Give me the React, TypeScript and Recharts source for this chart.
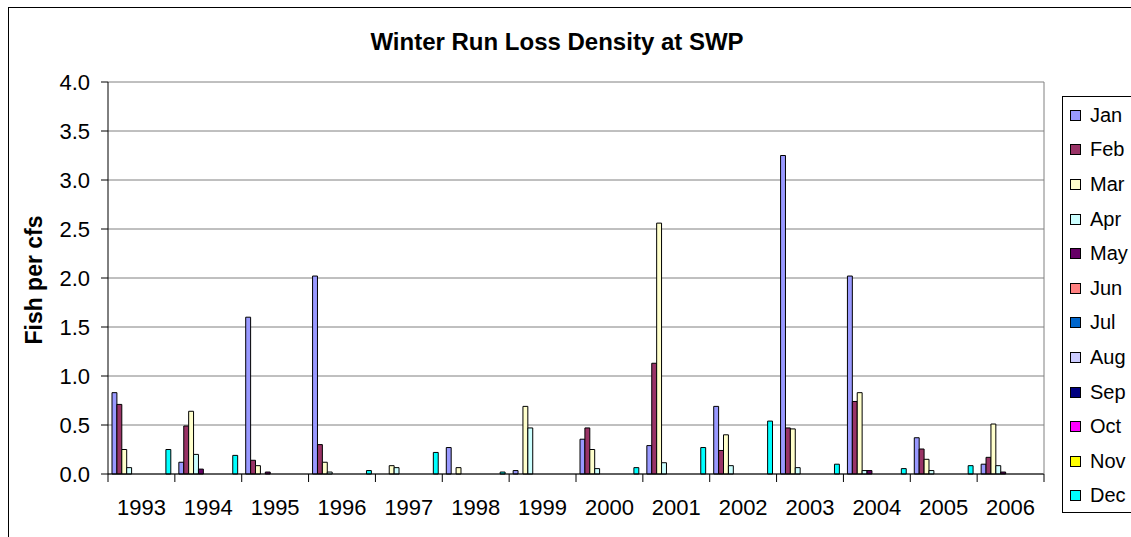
import { BarChart, Bar, XAxis, YAxis, CartesianGrid, Legend } from "recharts";

const YEARS = ['1993', '1994', '1995', '1996', '1997', '1998', '1999', '2000', '2001', '2002', '2003', '2004', '2005', '2006'];
const MONTHS = ['Jan', 'Feb', 'Mar', 'Apr', 'May', 'Jun', 'Jul', 'Aug', 'Sep', 'Oct', 'Nov', 'Dec'];
const COLORS = ['#9999FF', '#993366', '#FFFFCC', '#CCFFFF', '#660066', '#FF8080', '#0066CC', '#CCCCFF', '#000080', '#FF00FF', '#FFFF00', '#00FFFF'];

// fish per cfs, one value per year
const JAN = [0.83, 0.12, 1.6, 2.02, 0, 0.27, 0.035, 0.355, 0.29, 0.69, 3.25, 2.02, 0.37, 0.1];
const FEB = [0.71, 0.49, 0.14, 0.3, 0, 0, 0, 0.47, 1.13, 0.24, 0.47, 0.74, 0.255, 0.17];
const MAR = [0.25, 0.64, 0.085, 0.12, 0.085, 0.065, 0.69, 0.25, 2.56, 0.4, 0.46, 0.83, 0.15, 0.51];
const APR = [0.065, 0.2, 0, 0.02, 0.065, 0, 0.47, 0.055, 0.115, 0.085, 0.065, 0.035, 0.035, 0.085];
const MAY = [0, 0.05, 0.02, 0, 0, 0, 0, 0, 0, 0, 0, 0.035, 0, 0.02];
const JUN = [0, 0, 0, 0, 0, 0, 0, 0, 0, 0, 0, 0, 0, 0];
const JUL = [0, 0, 0, 0, 0, 0, 0, 0, 0, 0, 0, 0, 0, 0];
const AUG = [0, 0, 0, 0, 0, 0, 0, 0, 0, 0, 0, 0, 0, 0];
const SEP = [0, 0, 0, 0, 0, 0, 0, 0, 0, 0, 0, 0, 0, 0];
const OCT = [0, 0, 0, 0, 0, 0, 0, 0, 0, 0, 0, 0, 0, 0];
const NOV = [0, 0, 0, 0, 0, 0, 0, 0, 0, 0, 0, 0, 0, 0];
const DEC = [0.25, 0.19, 0, 0.035, 0.22, 0.02, 0, 0.065, 0.27, 0.54, 0.1, 0.055, 0.085, 0];

const SERIES = [JAN, FEB, MAR, APR, MAY, JUN, JUL, AUG, SEP, OCT, NOV, DEC];
const Y_TICKS = [0, 0.5, 1, 1.5, 2, 2.5, 3, 3.5, 4];

const data = YEARS.map((year, i) => {
  const row: Record<string, string | number> = { year };
  MONTHS.forEach((m, j) => {
    row[m] = SERIES[j][i];
  });
  return row;
});

const FONT = '"Liberation Sans", Arial, sans-serif';
const TICK_LEN = 8;
const LABEL_GAP = 25;

// year label plus Excel-style tick marks on the group boundaries
function YearTick(props: any) {
  const { x, y, payload, index } = props;
  const half = payload.offset || 0;
  const axisY = y - LABEL_GAP;
  const last = index === YEARS.length - 1;
  return (
    <g>
      <line x1={x - half} x2={x - half} y1={axisY} y2={axisY + TICK_LEN} stroke="#000" />
      {last && <line x1={x + half} x2={x + half} y1={axisY} y2={axisY + TICK_LEN} stroke="#000" />}
      <text x={x} y={y} dy="0.71em" textAnchor="middle" fontSize={22} fontFamily={FONT} fill="#000">
        {payload.value}
      </text>
    </g>
  );
}

function LegendBox() {
  return (
    <div style={{ border: '1px solid #000', background: '#fff', width: 80, height: 414, paddingTop: 1, fontFamily: FONT }}>
      {MONTHS.map((m, i) => (
        <div key={m} style={{ height: 34.6, display: 'flex', alignItems: 'center' }}>
          <span style={{ width: 9, height: 9, border: '1px solid #000', background: COLORS[i], marginLeft: 7, marginRight: 9, display: 'inline-block' }} />
          <span style={{ fontSize: 20, color: '#000' }}>{m}</span>
        </div>
      ))}
    </div>
  );
}

export default function App() {
  return (
    <div style={{ position: 'absolute', left: 0, top: 0, width: 1131, height: 537, overflow: 'hidden', background: '#fff', fontFamily: FONT }}>
      <div style={{ position: 'absolute', left: 8, top: 7, width: 1200, height: 700, border: '1px solid #000' }} />
      <div style={{ position: 'absolute', left: 0, top: 30, width: 1114, textAlign: 'center', fontSize: 24, lineHeight: '24px', fontWeight: 'bold', color: '#000' }}>
        Winter Run Loss Density at SWP
      </div>
      <svg style={{ position: 'absolute', left: 0, top: 0 }} width={60} height={537}>
        <text transform="translate(42,280) rotate(-90)" textAnchor="middle" fontSize={23} fontWeight="bold" fontFamily={FONT} fill="#000">
          Fish per cfs
        </text>
      </svg>
      <div style={{ position: 'absolute', left: 0, top: 0 }}>
        <BarChart
          width={1131}
          height={537}
          data={data}
          margin={{ top: 82, right: 86, bottom: 0, left: 0 }}
          barGap={0}
          barSize={4.9}
        >
          <CartesianGrid vertical={false} stroke="#808080" />
          <XAxis
            dataKey="year"
            stroke="#000"
            tickLine={false}
            tickSize={0}
            tickMargin={LABEL_GAP}
            height={63}
            interval={0}
            tick={<YearTick />}
          />
          <YAxis
            domain={[0, 4]}
            ticks={Y_TICKS}
            width={108}
            tickSize={7}
            tickMargin={11}
            stroke="#000"
            tickFormatter={(v: number) => v.toFixed(1)}
            tick={{ fontSize: 22, fill: '#000', fontFamily: FONT }}
          />
          <YAxis
            yAxisId="frame"
            orientation="right"
            width={1}
            domain={[0, 4]}
            tick={false}
            tickLine={false}
            stroke="#808080"
          />
          {MONTHS.map((m, i) => (
            <Bar key={m} dataKey={m} fill={COLORS[i]} stroke="#000" strokeWidth={1} isAnimationActive={false} />
          ))}
          <Legend
            layout="horizontal"
            align="center"
            verticalAlign="middle"
            wrapperStyle={{ position: 'absolute', left: 1062, top: 96, width: 82, height: 416 }}
            content={() => <LegendBox />}
          />
        </BarChart>
      </div>
    </div>
  );
}
